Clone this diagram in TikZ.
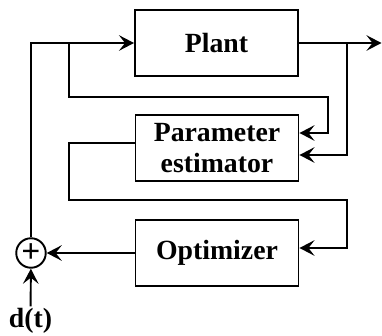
\documentclass[tikz,border=0pt]{standalone}
\usepackage{fontspec}
\setmainfont{Liberation Serif}
\usetikzlibrary{arrows.meta,positioning,calc}
\tikzset{
  >={Stealth[length=3mm,width=3.1mm,inset=1.2mm]},
  every picture/.style={line join=miter},
  blk/.style={draw, line width=1.1pt, minimum width=3.26cm, minimum height=1.32cm,
    align=center, font=\fontsize{15.8}{17.5}\selectfont\bfseries, inner sep=2pt},
  sumop/.style={circle, draw, line width=1.1pt, minimum size=5.9mm, inner sep=0pt,
    font=\fontsize{19}{19}\selectfont\bfseries},
  arr/.style={->, line width=1.1pt},
  lbl/.style={font=\fontsize{15.8}{15.8}\selectfont\bfseries, inner sep=1pt},
}
\begin{document}
\begin{tikzpicture}
  \useasboundingbox (0,0) rectangle (7.64,6.72);
  % blocks
  \node[blk] (plant) at (4.33,5.86) {Plant};
  \node[blk] (est) at (4.34,3.76) {Parameter\\estimator};
  \node[blk] (opt) at (4.34,1.66) {Optimizer};
  \node[sumop] (sum) at (0.62,1.66) {\raisebox{0.3pt}{+}};
  \node[lbl] (dist) at (0.61,0.30) {d(t)};
  % corners and taps
  \coordinate (yout) at (7.63,5.86);
  \coordinate (tapu) at (1.38,5.86);
  \coordinate (tapy) at (6.94,5.86);
  \coordinate (uturn) at (6.56,4.78);
  \coordinate (ldown) at (1.38,2.72);
  \coordinate (rturn) at (6.94,2.72);
  % forward path
  \draw[arr] (sum.north) |- (plant.west);
  \draw[arr] (plant.east) -- (yout);
  % feedback to the estimator
  \draw[arr] (tapu) |- (uturn) |- ([yshift=3mm]est.east);
  \draw[arr] (tapy) |- ([yshift=-1.4mm]est.east);
  % estimator to optimizer to summing point
  \draw[arr] ([yshift=1mm]est.west) -| (ldown) -- (rturn) |- ([yshift=1mm]opt.east);
  \draw[arr] (opt) -- (sum);
  \draw[arr] (dist) -- (sum);
\end{tikzpicture}
\end{document}
